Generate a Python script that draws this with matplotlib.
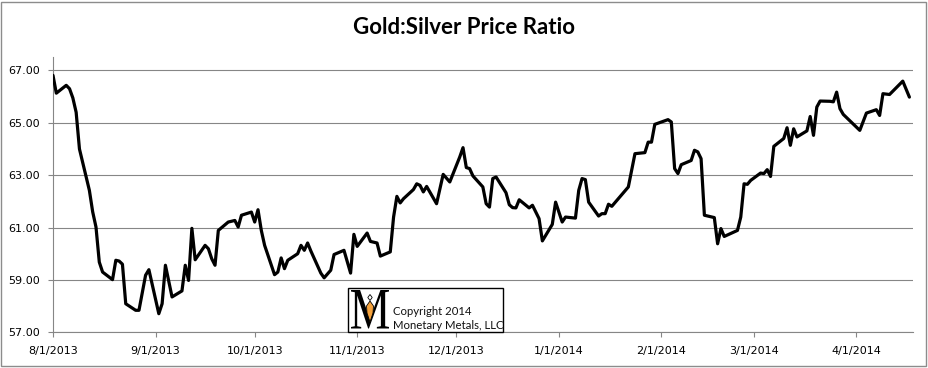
import matplotlib
matplotlib.use('Agg')
import matplotlib.pyplot as plt
import pandas as pd
from matplotlib.patches import Rectangle, PathPatch, Polygon
from matplotlib.textpath import TextPath
from matplotlib.font_manager import FontProperties
from matplotlib.transforms import Affine2D, IdentityTransform

# ---------------- data ----------------
dates = [
    '2013-08-01', '2013-08-02', '2013-08-05', '2013-08-06', '2013-08-07', '2013-08-08', '2013-08-09',
    '2013-08-12', '2013-08-13', '2013-08-14', '2013-08-15', '2013-08-16', '2013-08-19', '2013-08-20',
    '2013-08-21', '2013-08-22', '2013-08-23', '2013-08-26', '2013-08-27', '2013-08-29', '2013-08-30',
    '2013-09-02', '2013-09-03', '2013-09-04', '2013-09-06', '2013-09-09', '2013-09-10', '2013-09-11',
    '2013-09-12', '2013-09-13', '2013-09-16', '2013-09-17', '2013-09-18', '2013-09-19', '2013-09-20',
    '2013-09-23', '2013-09-25', '2013-09-26', '2013-09-27', '2013-09-30', '2013-10-01', '2013-10-02',
    '2013-10-03', '2013-10-04', '2013-10-07', '2013-10-08', '2013-10-09', '2013-10-10', '2013-10-11',
    '2013-10-14', '2013-10-15', '2013-10-16', '2013-10-17', '2013-10-18', '2013-10-21', '2013-10-22',
    '2013-10-24', '2013-10-25', '2013-10-28', '2013-10-30', '2013-10-31', '2013-11-01', '2013-11-04',
    '2013-11-05', '2013-11-07', '2013-11-08', '2013-11-11', '2013-11-12', '2013-11-13', '2013-11-14',
    '2013-11-15', '2013-11-18', '2013-11-19', '2013-11-20', '2013-11-21', '2013-11-22', '2013-11-25',
    '2013-11-27', '2013-11-29', '2013-12-02', '2013-12-03', '2013-12-04', '2013-12-05', '2013-12-06',
    '2013-12-09', '2013-12-10', '2013-12-11', '2013-12-12', '2013-12-13', '2013-12-16', '2013-12-17',
    '2013-12-18', '2013-12-19', '2013-12-20', '2013-12-23', '2013-12-24', '2013-12-26', '2013-12-27',
    '2013-12-30', '2013-12-31', '2014-01-02', '2014-01-03', '2014-01-06', '2014-01-07', '2014-01-08',
    '2014-01-09', '2014-01-10', '2014-01-13', '2014-01-14', '2014-01-15', '2014-01-16', '2014-01-17',
    '2014-01-22', '2014-01-24', '2014-01-27', '2014-01-28', '2014-01-29', '2014-01-30', '2014-02-03',
    '2014-02-04', '2014-02-05', '2014-02-06', '2014-02-07', '2014-02-10', '2014-02-11', '2014-02-12',
    '2014-02-13', '2014-02-14', '2014-02-17', '2014-02-18', '2014-02-19', '2014-02-20', '2014-02-24',
    '2014-02-25', '2014-02-26', '2014-02-27', '2014-02-28', '2014-03-03', '2014-03-04', '2014-03-05',
    '2014-03-06', '2014-03-07', '2014-03-10', '2014-03-11', '2014-03-12', '2014-03-13', '2014-03-14',
    '2014-03-17', '2014-03-18', '2014-03-19', '2014-03-20', '2014-03-21', '2014-03-24', '2014-03-25',
    '2014-03-26', '2014-03-27', '2014-03-28', '2014-04-02', '2014-04-04', '2014-04-07', '2014-04-08',
    '2014-04-09', '2014-04-11', '2014-04-15', '2014-04-17',
]
ratio = [
    66.81, 66.13, 66.43, 66.30, 65.95, 65.40, 64.00,
    62.42, 61.60, 61.02, 59.68, 59.30, 59.01, 59.75,
    59.72, 59.60, 58.09, 57.84, 57.84, 59.18, 59.39,
    57.71, 58.09, 59.56, 58.35, 58.58, 59.56, 58.98,
    60.97, 59.77, 60.32, 60.19, 59.81, 59.56, 60.89,
    61.21, 61.27, 61.02, 61.47, 61.59, 61.21, 61.68,
    60.89, 60.32, 59.20, 59.30, 59.84, 59.43, 59.75,
    60.00, 60.32, 60.13, 60.41, 60.10, 59.26, 59.08,
    59.37, 59.97, 60.13, 59.26, 60.74, 60.28, 60.79,
    60.47, 60.41, 59.91, 60.07, 61.40, 62.19, 61.94,
    62.10, 62.45, 62.67, 62.61, 62.36, 62.57, 61.91,
    63.03, 62.74, 63.69, 64.05, 63.29, 63.25, 62.97,
    62.55, 61.91, 61.78, 62.87, 62.93, 62.33, 61.87,
    61.76, 61.75, 62.06, 61.75, 61.85, 61.34, 60.49,
    61.12, 61.97, 61.21, 61.40, 61.36, 62.42, 62.87,
    62.83, 61.97, 61.44, 61.53, 61.53, 61.89, 61.81,
    62.55, 63.82, 63.86, 64.26, 64.26, 64.94, 65.12,
    65.03, 63.25, 63.06, 63.40, 63.56, 63.95, 63.89,
    63.63, 61.47, 61.38, 60.38, 60.96, 60.66, 60.89,
    61.40, 62.67, 62.65, 62.80, 63.08, 63.06, 63.21,
    62.95, 64.10, 64.40, 64.81, 64.14, 64.77, 64.46,
    64.69, 65.24, 64.52, 65.60, 65.83, 65.82, 65.80,
    66.17, 65.54, 65.32, 64.71, 65.37, 65.50, 65.28,
    66.11, 66.08, 66.59, 65.98,
]
tick_dates = ['2013-08-01', '2013-09-01', '2013-10-01', '2013-11-01', '2013-12-01',
              '2014-01-01', '2014-02-01', '2014-03-01', '2014-04-01']
tick_labels = ['8/1/2013', '9/1/2013', '10/1/2013', '11/1/2013', '12/1/2013',
               '1/1/2014', '2/1/2014', '3/1/2014', '4/1/2014']
y_ticks = [57, 59, 61, 63, 65, 67]
y_tick_labels = ['57.00', '59.00', '61.00', '63.00', '65.00', '67.00']
title = 'Gold:Silver Price Ratio'
copyright_lines = ['Copyright 2014', 'Monetary Metals, LLC']

# ---------------- layout ----------------
W, H = 929, 368
fig = plt.figure(figsize=(W / 100, H / 100), dpi=100)
fig.patch.set_facecolor('white')

def fx(x):
    return x / W

def fy(y):
    return 1 - y / H

GRID = '#868686'

ax = fig.add_axes([fx(53), fy(332.3), (912.7 - 53) / W, (332.3 - 57.3) / H])
ax.plot(pd.to_datetime(dates), ratio, color='black', lw=2.3,
        solid_joinstyle='round', solid_capstyle='round', zorder=3)
ax.set_xlim(pd.Timestamp('2013-08-01'), pd.Timestamp('2014-04-18'))
ax.set_ylim(57, 67.5)
ax.set_yticks(y_ticks, y_tick_labels)
ax.set_xticks(pd.to_datetime(tick_dates), tick_labels)
ax.grid(axis='y', color=GRID, lw=0.8)
ax.set_axisbelow(True)
for s in ['top', 'right']:
    ax.spines[s].set_visible(False)
for s in ['left', 'bottom']:
    ax.spines[s].set_color(GRID)
    ax.spines[s].set_linewidth(0.8)
ax.tick_params(axis='both', direction='out', length=3.6, width=0.8, color=GRID,
               labelsize=8, labelcolor='black')
ax.tick_params(axis='y', pad=6)
ax.tick_params(axis='x', pad=6)
for lab in ax.get_xticklabels() + ax.get_yticklabels():
    lab.set_fontfamily('DejaVu Sans')

# title
fig.text(fx(464), fy(34), title, ha='center', va='baseline', fontsize=16,
         fontweight='bold', family='Lato', color='black')

# outer chart border
fig.add_artist(Rectangle((fx(1.5), fy(366)), (926.5 - 1.5) / W, (366 - 1.5) / H,
                         transform=fig.transFigure, fill=False, edgecolor='#8c8c8c',
                         lw=1.0, zorder=10))

# copyright box
fig.add_artist(Rectangle((fx(348.5), fy(332.3)), (503.3 - 348.5) / W, (332.3 - 287.5) / H,
                         transform=fig.transFigure, facecolor='white', edgecolor='black',
                         lw=1.0, zorder=6))
fig.text(fx(392.7), fy(315), copyright_lines[0], ha='left', va='baseline',
         fontsize=8.2, family='Lato', color='#111111', zorder=7)
fig.text(fx(392.7), fy(328.7), copyright_lines[1], ha='left', va='baseline',
         fontsize=8.2, family='Lato', color='#111111', zorder=7)

# logo "M"
tp = TextPath((0, 0), 'M', size=1, prop=FontProperties(family='Liberation Serif'))
bb = tp.get_extents()
mx0, my0, mx1, my1 = 351, 290, 389, 328.5
tr = (Affine2D().translate(-bb.x0, -bb.y0)
      .scale((mx1 - mx0) / bb.width, (my1 - my0) / bb.height)
      .translate(mx0, H - my1))
logo = PathPatch(tr.transform_path(tp), facecolor='black', edgecolor='none', zorder=7,
                 transform=IdentityTransform())
fig.add_artist(logo)

def fpts(pts):
    return [(fx(x), fy(y)) for x, y in pts]

fig.add_artist(Polygon(fpts([(366.5, 306), (370, 301), (373.5, 306), (373, 313), (370, 322), (367, 313)]),
                       closed=True, transform=fig.transFigure, facecolor='#F5A23C',
                       edgecolor='black', lw=0.6, zorder=8))
fig.add_artist(Polygon(fpts([(370, 294.5), (372.2, 297.5), (370, 300.5), (367.8, 297.5)]),
                       closed=True, transform=fig.transFigure, facecolor='white',
                       edgecolor='black', lw=0.6, zorder=8))

fig.savefig('out.png', dpi=100, facecolor='white')
